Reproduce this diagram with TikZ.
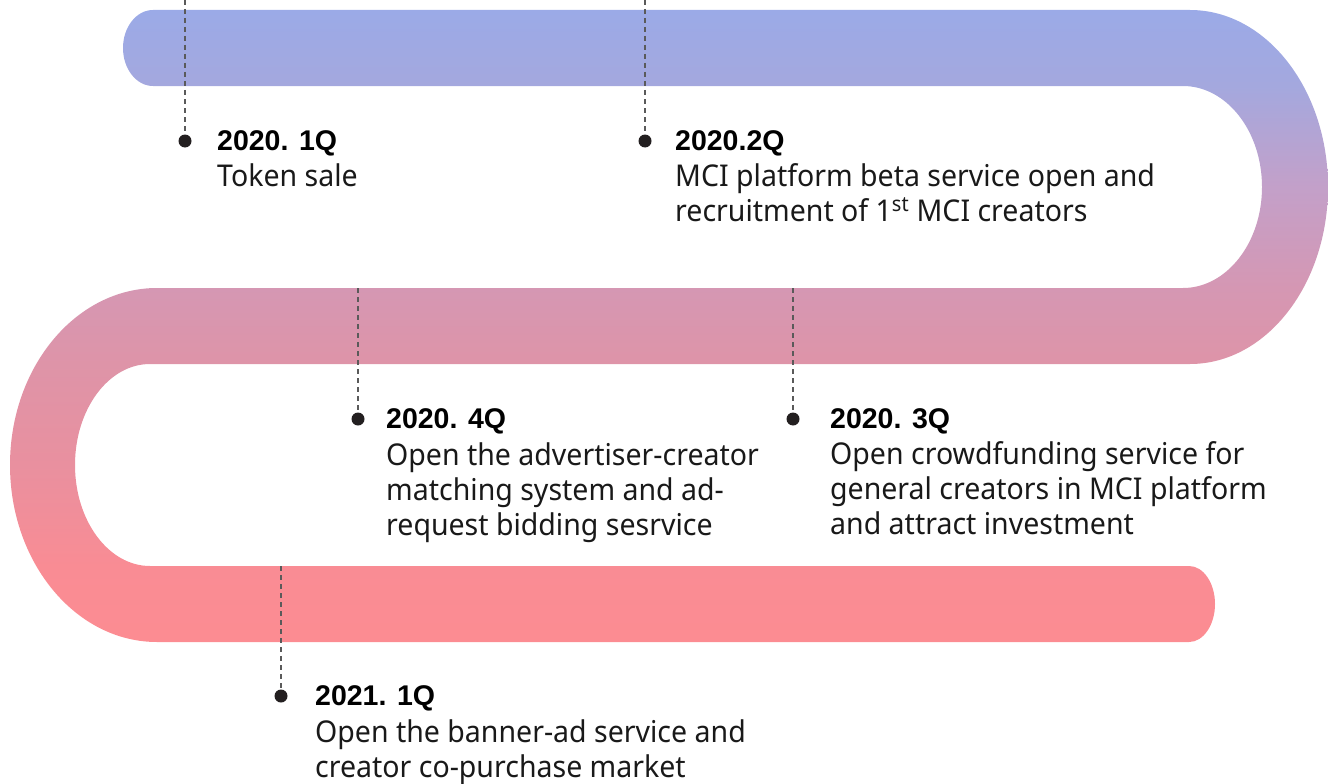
\documentclass[tikz,border=0pt]{standalone}
\usepackage{fontspec}
\setmainfont{Noto Sans}[FakeStretch=0.95]
\newfontfamily\headfont{Liberation Sans}
\definecolor{roadA}{HTML}{9BAAE7}
\definecolor{roadB}{HTML}{A4A8DE}
\definecolor{roadC}{HTML}{C3A0C9}
\definecolor{roadD}{HTML}{D597B3}
\definecolor{roadE}{HTML}{DE94A8}
\definecolor{roadF}{HTML}{E9909F}
\definecolor{roadG}{HTML}{F98C94}
\definecolor{roadH}{HTML}{FC8C92}
\definecolor{dotblack}{HTML}{231F20}
\definecolor{leadgray}{HTML}{5A5A5A}
% stops 25bp..75bp cover the road from its bottom to its top
\pgfdeclareverticalshading{road}{100bp}{color(0bp)=(roadH); color(25bp)=(roadH);
  color(31bp)=(roadG); color(39bp)=(roadF); color(47bp)=(roadE); color(53bp)=(roadD);
  color(61bp)=(roadC); color(69bp)=(roadB); color(75bp)=(roadA); color(100bp)=(roadA)}
\newcommand{\milestonetext}[1]{\begin{tabular}[t]{@{}l@{}}#1\end{tabular}}
\tikzset{
  milestone/.style={circle, fill=dotblack, inner sep=0pt, minimum size=13pt},
  leader/.style={draw=leadgray, line width=1.8pt, dash pattern=on 5pt off 4pt},
  quarter/.style={anchor=base west, inner sep=0pt, text=black,
    font=\headfont\bfseries\fontsize{28.5}{33}\selectfont},
  detail/.style={anchor=base west, inner sep=0pt, text=black!90,
    font=\fontsize{30}{35}\selectfont},
}
\begin{document}
\begin{tikzpicture}[x=1pt, y=-1pt]
\useasboundingbox (0,0) rectangle (1328,784);

	% the road
	\shade[shading=road]
	  (153,10) -- (1190,10) arc[start angle=-90, end angle=90, x radius=138, y radius=177]
	  -- (150,364) arc[start angle=270, end angle=90, x radius=75, y radius=101]
	  -- (1189,566) arc[start angle=-90, end angle=90, x radius=26, y radius=38]
	  -- (157,642) arc[start angle=90, end angle=270, x radius=147, y radius=177]
	  -- (1183,288) arc[start angle=90, end angle=-90, x radius=79, y radius=101]
	  -- (153,86) arc[start angle=90, end angle=270, x radius=30, y radius=38] -- cycle;

	% leaders and dots
	\coordinate (q1top) at (185,0);
	\coordinate (q2top) at (645,0);
	\coordinate (q4top) at (358,288);
	\coordinate (q3top) at (793,288);
	\coordinate (r1top) at (281,566);
	\node[milestone] (q1) at (185,141) {};
	\node[milestone] (q2) at (645,141) {};
	\node[milestone] (q4) at (358,419) {};
	\node[milestone] (q3) at (793,419) {};
	\node[milestone] (r1) at (281,696) {};
	\draw[leader] (q1top) -- (q1);
	\draw[leader] (q2top) -- (q2);
	\draw[leader] (q4top) -- (q4);
	\draw[leader] (q3top) -- (q3);
	\draw[leader] (r1top) -- (r1);

	% texts
	\node[quarter] (q1head) at (217,150) {2020. 1Q};
	\node[detail] (q1text) at (217,186) {\milestonetext{Token sale}};
	\node[quarter] (q2head) at (675,150) {2020.2Q};
	\node[detail] (q2text) at (675,186) {\milestonetext{MCI platform beta service open and\\
	  recruitment of 1\textsuperscript{st} MCI creators}};
	\node[quarter] (q4head) at (386,428) {2020. 4Q};
	\node[detail] (q4text) at (386,465) {\milestonetext{Open the advertiser-creator\\
	  matching system and ad-\\ request bidding sesrvice}};
	\node[quarter] (q3head) at (830,428) {2020. 3Q};
	\node[detail] (q3text) at (830,464) {\milestonetext{Open crowdfunding service for\\
	  general creators in MCI platform\\ and attract investment}};
	\node[quarter] (r1head) at (315,705) {2021. 1Q};
	\node[detail] (r1text) at (315,742) {\milestonetext{Open the banner-ad service and\\
	  creator co-purchase market}};

\end{tikzpicture}
\end{document}
